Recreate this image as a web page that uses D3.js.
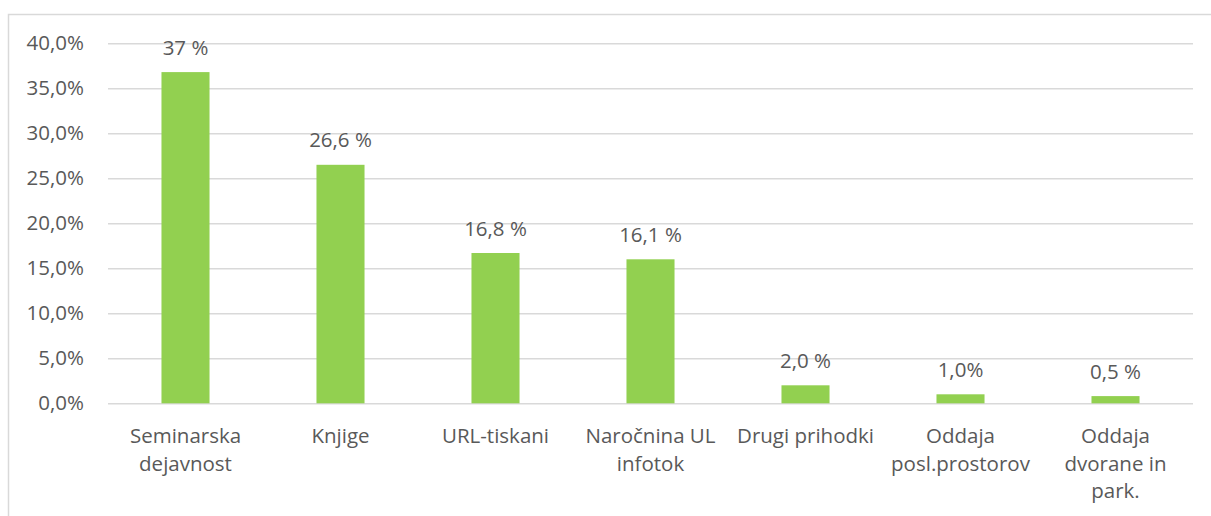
<!DOCTYPE html>
<html>
<head>
<meta charset="utf-8">
<script src="https://cdn.jsdelivr.net/npm/d3@7"></script>
<style>
  body { margin: 0; background: #fff; }
  text { font-family: "Open Sans", sans-serif; fill: #595959; }
</style>
</head>
<body>
<div id="chart"></div>
<script>
// categories (each split into the lines shown under the axis)
var categories = ["Seminarska dejavnost", "Knjige", "URL-tiskani", "Naročnina UL infotok",
                  "Drugi prihodki", "Oddaja posl.prostorov", "Oddaja dvorane in park."];
var categoryLines = [["Seminarska", "dejavnost"], ["Knjige"], ["URL-tiskani"], ["Naročnina UL", "infotok"],
                     ["Drugi prihodki"], ["Oddaja", "posl.prostorov"], ["Oddaja", "dvorane in", "park."]];
// bar heights (percent)
var values = [36.8, 26.5, 16.7, 16.0, 2.0, 1.0, 0.8];
// data labels as printed
var valueLabels = ["37 %", "26,6 %", "16,8 %", "16,1 %", "2,0 %", "1,0%", "0,5 %"];
var yTicks = [0, 5, 10, 15, 20, 25, 30, 35, 40];

function main() {
    var canvasWidth = 1211;
    var canvasHeight = 516;
    var left = 108, right = 1193, top = 43.3, bottom = 403.3;
    var fontSize = "20.5px";

    var svg = d3.select("#chart").append("svg")
        .attr("width", canvasWidth)
        .attr("height", canvasHeight);

    // chart frame
    svg.append("rect")
        .attr("x", 8.5).attr("y", 14.5)
        .attr("width", 1220).attr("height", 520)
        .attr("fill", "none")
        .attr("stroke", "#d9d9d9")
        .attr("stroke-width", 1.5);

    var xScale = d3.scaleBand().domain(categories).range([left, right])
        .paddingInner(0.69).paddingOuter(0.345);
    var yScale = d3.scaleLinear().domain([0, 40]).range([bottom, top]);

    var fmt = function(d) { return d3.format(".1f")(d).replace(".", ",") + "%"; };

    // y axis: gridlines + labels
    var yAxis = svg.append("g")
        .attr("transform", "translate(" + left + ",0)")
        .call(d3.axisLeft(yScale).tickValues(yTicks).tickFormat(fmt)
            .tickSize(-(right - left)).tickPadding(24));
    yAxis.select(".domain").remove();
    yAxis.selectAll(".tick line").attr("stroke", "#d9d9d9").attr("stroke-width", 1.5);
    yAxis.selectAll(".tick text")
        .attr("font-size", fontSize)
        .attr("fill", "#595959")
        .attr("font-family", "'Open Sans', sans-serif");

    // bars
    svg.selectAll(".bar")
        .data(values)
        .enter().append("rect")
        .attr("class", "bar")
        .attr("x", function(d, i) { return xScale(categories[i]); })
        .attr("y", function(d) { return yScale(d); })
        .attr("width", xScale.bandwidth())
        .attr("height", function(d) { return yScale(0) - yScale(d); })
        .attr("fill", "#92d050");

    // value labels
    svg.selectAll(".vlabel")
        .data(values)
        .enter().append("text")
        .attr("class", "vlabel")
        .attr("x", function(d, i) { return xScale(categories[i]) + xScale.bandwidth() / 2; })
        .attr("y", function(d) { return yScale(d) - 17.5; })
        .attr("text-anchor", "middle")
        .attr("font-size", fontSize)
        .text(function(d, i) { return valueLabels[i]; });

    // category labels
    var cat = svg.selectAll(".cat")
        .data(categoryLines)
        .enter().append("text")
        .attr("class", "cat")
        .attr("text-anchor", "middle")
        .attr("font-size", fontSize)
        .attr("x", function(d, i) { return xScale(categories[i]) + xScale.bandwidth() / 2; })
        .attr("y", bottom + 40);
    cat.selectAll("tspan")
        .data(function(d) { return d; })
        .enter().append("tspan")
        .attr("x", function() { return d3.select(this.parentNode).attr("x"); })
        .attr("dy", function(d, j) { return j === 0 ? 0 : 27.5; })
        .text(function(d) { return d; });
}

main();
</script>
</body>
</html>
